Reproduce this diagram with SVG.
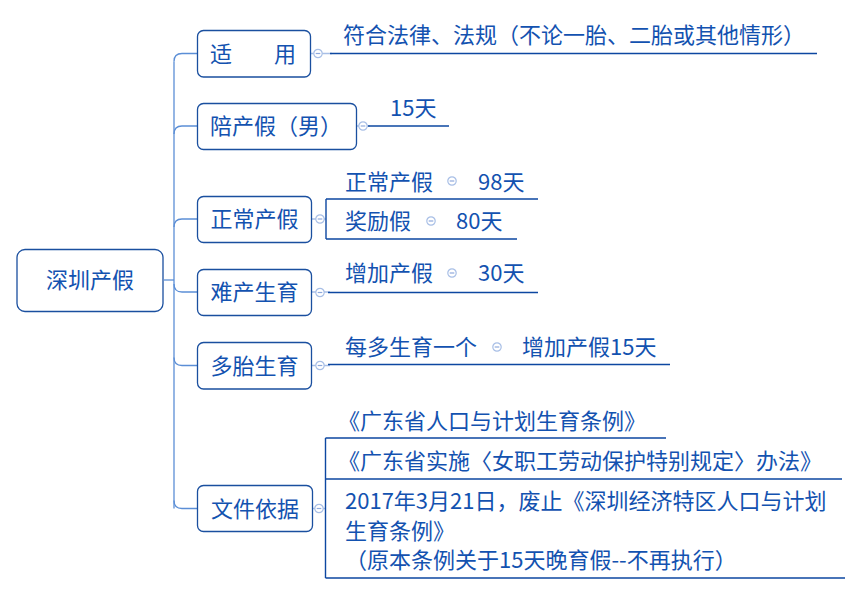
<svg xmlns="http://www.w3.org/2000/svg" width="861" height="594" viewBox="0 0 861 594">
<defs>
<style>
.box{fill:#fff;stroke:#1a4f9f;stroke-width:1.3}
.t{font-family:"Noto Sans CJK SC","Noto Sans",sans-serif;font-size:22px;fill:#1352b0}
.m{text-anchor:middle}
.trunk{fill:none;stroke:#5b8ed6;stroke-width:1.3}
.ul{fill:none;stroke:#0d47a1;stroke-width:1.4}
.lt{fill:none;stroke:#a8bfe6;stroke-width:1.3}
.cc{fill:#fff;stroke:#a8bfe6;stroke-width:1.2}
.cm{stroke:#8fa9dc;stroke-width:1.2}
</style>
<g id="col">
<circle class="cc" cx="0" cy="0" r="4.2"/>
<line class="cm" x1="-2.3" y1="0" x2="2.3" y2="0"/>
</g>
</defs>
<rect width="861" height="594" fill="#fff"/>

<g id="connectors">
<path class="trunk" d="M164 280H174"/>
<path class="trunk" d="M174 508.5V61.5"/>
<path class="trunk" d="M174 61.5Q174 53.5 182 53.5H197"/>
<path class="trunk" d="M174 134Q174 126 182 126H197"/>
<path class="trunk" d="M174 227Q174 219 182 219H197"/>
<path class="trunk" d="M174 284Q174 292 182 292H197"/>
<path class="trunk" d="M174 357.5Q174 365.5 182 365.5H197"/>
<path class="trunk" d="M174 500.5Q174 508.5 182 508.5H197"/>
<!-- node to collapse circle -->
<path class="lt" d="M311 53.5H314M322 53.5H332"/>
<path class="ul" d="M330 53.5H817"/>
<path class="lt" d="M357 126H359M367 126H370"/>
<path class="ul" d="M368 126H449"/>
<path class="lt" d="M312 219H316M324 219H326"/>
<path class="ul" d="M326 199V239M326 199H538M326 239H517"/>
<path class="lt" d="M312 292H316M324 292H330"/>
<path class="ul" d="M328 292.5H538"/>
<path class="lt" d="M312 365.5H316M324 365.5H330"/>
<path class="ul" d="M328 364.5H670"/>
<path class="lt" d="M312 508.5H315M323 508.5H326"/>
<path class="ul" d="M325.5 438V578M325.5 438H666M325.5 479H842M325.5 578H845"/>
<use href="#col" x="318" y="53.5"/>
<use href="#col" x="363" y="126"/>
<use href="#col" x="320" y="219"/>
<use href="#col" x="320" y="292.5"/>
<use href="#col" x="320" y="365.5"/>
<use href="#col" x="319" y="508.5"/>
<use href="#col" x="452" y="181"/>
<use href="#col" x="431" y="221"/>
<use href="#col" x="452" y="273"/>
<use href="#col" x="497" y="347"/>
</g>

<g id="root">
<rect class="box" x="17" y="249.5" width="146" height="62" rx="8"/>
<text class="t m" x="90" y="288">深圳产假</text>
</g>

<g id="n-shiyong">
<rect class="box" x="197.5" y="30.5" width="113" height="46.5" rx="6"/>
<text class="t" y="61.5"><tspan x="210">适</tspan><tspan x="274">用</tspan></text>
</g>
<g id="c-shiyong">
<text class="t" x="343" y="43">符合法律、法规（不论一胎、二胎或其他情形）</text>
</g>

<g id="n-peichan">
<rect class="box" x="197.5" y="103.5" width="159" height="46" rx="6"/>
<text class="t" x="210" y="134">陪产假（男）</text>
</g>
<g id="c-peichan">
<text class="t" x="390" y="116">15天</text>
</g>

<g id="n-zhengchang">
<rect class="box" x="197.5" y="196.5" width="114" height="46" rx="6"/>
<text class="t m" x="254.5" y="227">正常产假</text>
</g>
<g id="c-zhengchang1">
<text class="t" x="345" y="190">正常产假</text>
<text class="t" x="478" y="190">98天</text>
</g>
<g id="c-zhengchang2">
<text class="t" x="345" y="229">奖励假</text>
<text class="t" x="456" y="229">80天</text>
</g>

<g id="n-nanchan">
<rect class="box" x="197.5" y="269.5" width="114" height="46" rx="6"/>
<text class="t m" x="254.5" y="300">难产生育</text>
</g>
<g id="c-nanchan">
<text class="t" x="345" y="281">增加产假</text>
<text class="t" x="478" y="281">30天</text>
</g>

<g id="n-duotai">
<rect class="box" x="197.5" y="342.5" width="114" height="46.5" rx="6"/>
<text class="t m" x="254.5" y="373.5">多胎生育</text>
</g>
<g id="c-duotai">
<text class="t" x="345" y="355">每多生育一个</text>
<text class="t" x="522" y="355">增加产假15天</text>
</g>

<g id="n-wenjian">
<rect class="box" x="197.5" y="485.5" width="115" height="46" rx="6"/>
<text class="t m" x="255" y="516.5">文件依据</text>
</g>
<g id="c-wenjian1">
<text class="t" x="338" y="429">《广东省人口与计划生育条例》</text>
</g>
<g id="c-wenjian2">
<text class="t" x="338" y="469">《广东省实施〈女职工劳动保护特别规定〉办法》</text>
</g>
<g id="c-wenjian3">
<text class="t" x="345" y="509">2017年3月21日，废止《深圳经济特区人口与计划</text>
<text class="t" x="345" y="539">生育条例》</text>
<text class="t" x="345" y="568">（原本条例关于15天晚育假--不再执行）</text>
</g>
</svg>
